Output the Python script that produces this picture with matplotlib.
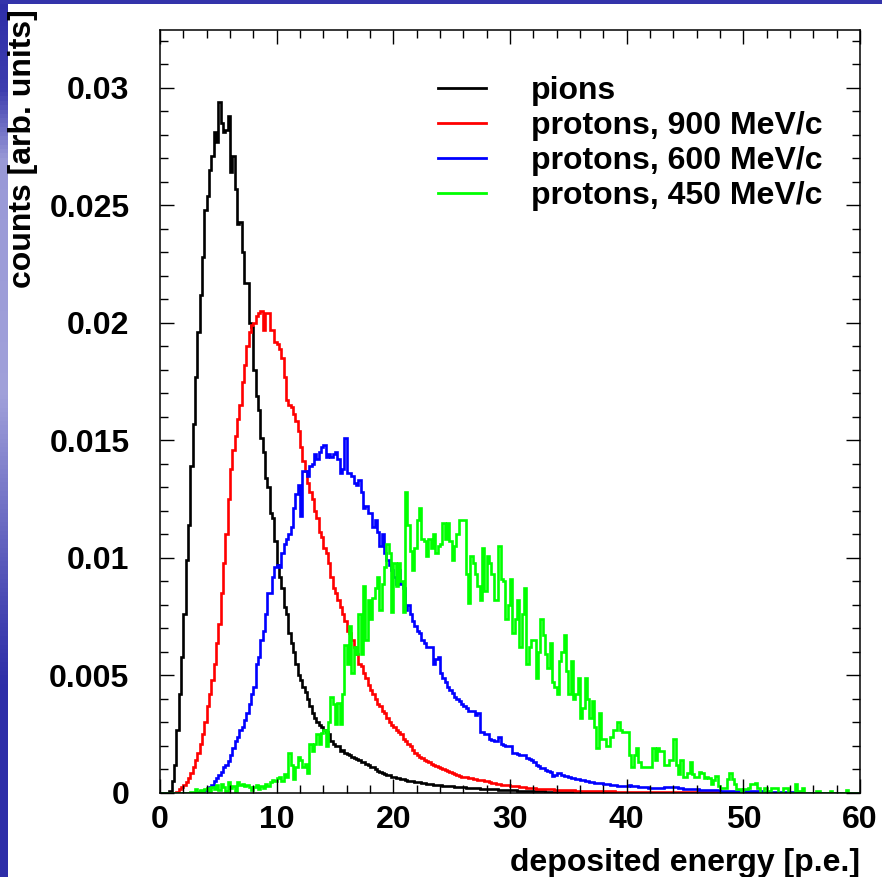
import numpy as np
import matplotlib.pyplot as plt
from matplotlib.lines import Line2D
from matplotlib.ticker import MultipleLocator, FuncFormatter

plt.rcParams['font.family'] = ['Liberation Sans', 'DejaVu Sans']
plt.rcParams['font.weight'] = 'bold'

# histogram binning: 300 bins of 0.2 p.e. between 0 and 60
edges = np.linspace(0, 60, 301)

# bin contents in units of 1e-4, one row = 10 bins = 2 p.e.
pions = [
    0, 0, 0, 0, 1, 5, 12, 27, 42, 58,
    76, 99, 114, 139, 157, 177, 196, 212, 228, 248,
    254, 265, 271, 281, 277, 294, 285, 281, 282, 288,
    264, 271, 257, 242, 243, 230, 217, 217, 200, 198,
    180, 169, 163, 151, 145, 134, 130, 119, 117, 107,
    97, 92, 87, 79, 76, 68, 64, 60, 55, 50,
    48, 45, 43, 40, 37, 34, 32, 30, 29, 28,
    27, 26, 25, 22, 21, 20, 20, 18, 18.5, 17,
    16.5, 16, 15.5, 15, 14.5, 14, 13, 13, 12.5, 12,
    11, 11, 10, 9.5, 9, 8.5, 8, 7.8, 7.5, 7,
    6.8, 6.5, 6.2, 6, 5.8, 5.5, 5.2, 5, 4.9, 4.8,
    4.7, 4.5, 4.4, 4.2, 4.0, 3.9, 3.8, 3.6, 3.4, 3.3,
    3.2, 3.1, 3.0, 2.9, 2.8, 2.8, 2.7, 2.6, 2.5, 2.4,
    2.4, 2.3, 2.3, 2.2, 2.1, 2.0, 2.0, 1.9, 1.8, 1.8,
    1.7, 1.7, 1.6, 1.5, 1.5, 1.4, 1.4, 1.3, 1.3, 1.2,
    1.2, 1.1, 1.1, 1.0, 1.0, 1.0, 0.9, 0.9, 0.9, 0.8,
    0.8, 0.8, 0.7, 0.7, 0.7, 0.6, 0.6, 0.6, 0.6, 0.5,
    0.5, 0.5, 0.5, 0.5, 0.4, 0.4, 0.4, 0.4, 0.4, 0.4,
    0.3, 0.3, 0.3, 0.3, 0.3, 0.3, 0.3, 0.3, 0.3, 0.3,
    0.3, 0.3, 0.2, 0.2, 0.2, 0.2, 0.2, 0.2, 0.2, 0.2,
    0.2, 0.2, 0.2, 0.2, 0.2, 0.2, 0.2, 0.2, 0.2, 0.2,
    0.1, 0.1, 0.1, 0.1, 0.1, 0.1, 0.1, 0.1, 0.1, 0.1,
    0.1, 0.1, 0.1, 0.1, 0.1,
]

protons_900 = [
    0, 0, 0, 0, 0, 0, 0, 0.5, 1.5, 2.5,
    3.5, 4.8, 6.5, 8.5, 11, 14, 17, 21, 25, 30,
    37, 42, 48, 55, 64, 72, 85, 98, 110, 125,
    138, 146, 152, 159, 165, 175, 182, 190, 196, 199,
    200, 203, 204, 205, 197, 204, 204, 197, 197, 192,
    191, 189, 185, 177, 167, 165, 164, 161, 158, 154,
    147, 141, 137, 132, 128, 125, 120, 117, 111, 109,
    104, 102, 98, 92, 87, 85, 82, 79, 76, 73,
    69, 68, 65, 62, 59, 55, 54, 51, 49, 46,
    44, 42, 40, 38, 37, 35, 34, 32, 30, 29,
    28, 27, 26, 25, 23, 22, 21, 20, 18.5, 17,
    16, 15.5, 15, 14, 13.5, 13, 12.5, 12, 11.5, 11,
    10.5, 10, 9.8, 9.3, 9, 8.6, 8.2, 7.8, 7.4, 7,
    6.8, 6.6, 6.4, 6.2, 6.0, 5.8, 5.6, 5.5, 5.4, 5.2,
    5.0, 4.7, 4.4, 4.2, 4.0, 3.8, 3.6, 3.4, 3.3, 3.2,
    3.1, 3.0, 2.9, 2.8, 2.7, 2.6, 2.5, 2.3, 2.2, 2.1,
    2.0, 1.9, 1.8, 1.7, 1.7, 1.6, 1.6, 1.5, 1.5, 1.4,
    1.4, 1.3, 1.3, 1.2, 1.2, 1.2, 1.1, 1.1, 1.0, 1.0,
    1.0, 0.9, 0.9, 0.9, 0.9, 0.8, 0.8, 0.8, 0.8, 0.7,
    0.7, 0.7, 0.7, 0.7, 0.7, 0.6, 0.6, 0.6, 0.6, 0.6,
    0.6, 0.6, 0.6, 0.6, 0.6, 0.5, 0.5, 0.5, 0.5, 0.5,
    0.5, 0.5, 0.5, 0.5, 0.5, 0.4, 0.4, 0.4, 0.4, 0.4,
    0.4, 0.4, 0.4, 0.4, 0.4, 0.3, 0.3, 0.3, 0.3, 0.3,
    0.3, 0.3, 0.3, 0.3, 0.3, 0.3, 0.3, 0.3, 0.3, 0.3,
    0.2, 0.2, 0.2, 0.2, 0.2, 0.2, 0.2, 0.2, 0.2, 0.2,
    0.2, 0.2, 0.2, 0.2, 0.2, 0.1, 0.1, 0.1, 0.1, 0.1,
    0.1, 0.1, 0.1, 0.1, 0.1, 0.1, 0.1, 0.1, 0.1, 0.1,
    0.1, 0.1, 0.1, 0.1, 0.1,
]

protons_600 = [
    0, 0, 0, 0, 0, 0, 0, 0, 0, 0,
    0, 0, 0, 0, 0, 0, 0.5, 0.8, 1.0, 1.2,
    1.5, 2.5, 3.5, 5, 6.5, 7.6, 9, 11, 12, 13.5,
    16, 19, 22, 24, 27, 28, 31, 34, 38, 42,
    45, 55, 58, 65, 69, 76, 85, 85, 92, 96,
    97, 96, 102, 106, 108, 110, 113, 121, 127, 131,
    118, 137, 137, 135, 139, 140, 144, 142, 145, 147,
    148, 143, 144, 143, 144, 145, 142, 136, 138, 151,
    136, 136, 135, 132, 131, 133, 128, 121, 122, 119,
    119, 113, 116, 111, 105, 110, 102, 99, 97, 95,
    92, 89, 95, 89, 87, 78, 80, 76, 73, 71,
    69, 68, 65, 64, 62, 62, 62, 55, 57, 58,
    51, 49, 47, 45, 44, 42.5, 41, 40, 39, 38,
    37, 36, 35, 35, 35, 33, 34, 26, 26, 25,
    25, 23, 22.6, 22, 22, 24, 21, 20.5, 20, 20,
    19.8, 17, 17, 16.5, 16.3, 16.3, 16, 15, 14.5, 14.1,
    13, 12, 11.3, 10.8, 10.5, 9.9, 9.5, 9, 7.1, 7.5,
    8.5, 8.5, 7.5, 7.1, 7.1, 6.8, 6.5, 6.2, 6, 5.8,
    5.6, 5.4, 5.2, 5.0, 4.8, 4.6, 4.4, 4.3, 4.2, 4.1,
    4.0, 3.9, 3.8, 3.6, 3.4, 3.2, 3.0, 2.9, 2.9, 3.0,
    3.1, 3.2, 3.1, 3.0, 2.8, 2.7, 2.6, 2.5, 2.4, 2.3,
    2.2, 2.2, 2.1, 2.1, 2.0, 2.2, 2.4, 2.5, 2.6, 2.5,
    2.6, 2.4, 2.2, 2.0, 1.9, 1.8, 1.7, 1.7, 1.6, 1.5,
    1.5, 1.4, 1.4, 1.3, 1.3, 1.2, 1.2, 1.1, 1.1, 1.1,
    1.0, 1.0, 1.0, 1.0, 1.0, 1.0, 1.0, 1.0, 1.0, 1.0,
    0.9, 0.9, 0.8, 0.8, 0.8, 0.7, 0.7, 0.7, 0.6, 0.6,
    0.5, 0.5, 0.5, 0.5, 0.5, 0.5, 0.5, 0.5, 0.5, 0.5,
    0.4, 0.4, 0.3, 0.3, 0.2, 0.2, 0.1, 0.1,
]

protons_450 = [
    0, 0, 0, 0, 0, 0, 0, 0, 0, 0,
    0, 0, 0, 0.5, 0.5, 1.5, 0.5, 1.3, 0.3, 1.6,
    2, 1.0, 2.7, 1.8, 3.4, 1.2, 3.8, 2.5, 0.8, 4.8,
    2.0, 2.8, 1.0, 4.8, 3.3, 3.8, 2.8, 3.5, 2.4, 1.3,
    2.5, 3.5, 1.7, 3.0, 2.2, 4.0, 3.0, 4.5, 5.5, 5.0,
    6.4, 7.0, 5.0, 7.9, 7.0, 17, 12, 6, 11, 15.5,
    14, 11, 12.5, 8.5, 21, 18, 21, 25, 21, 25.5,
    26.6, 20, 30, 41, 38, 29.5, 38.3, 29.5, 42, 63,
    55, 71, 51, 62, 59, 76, 59, 88, 65, 82,
    74, 83, 87, 92, 78, 89, 96, 106, 102, 77,
    98, 88, 98, 90, 77, 128, 114, 103, 95, 104,
    116, 121, 108, 107, 101, 108, 104, 110, 102, 105,
    106, 115, 108, 115, 107, 99, 105, 110, 116, 116,
    116, 93, 81, 101, 98, 93, 88, 82, 104, 86,
    101, 98, 93, 82, 82, 105, 91, 90, 74, 80,
    91, 68, 74, 82, 62, 76, 87, 55, 62, 65,
    65, 49, 60, 74, 67, 59, 53, 64, 47, 45,
    42, 56, 60, 67, 52, 42, 56, 40, 42, 49,
    32, 36, 49, 40, 32, 39, 28, 19, 34, 23,
    23, 20, 20, 24, 27, 27, 30, 27, 26, 26,
    26, 16, 11, 16, 19, 13, 11, 11, 11, 11,
    11, 19, 14, 19, 18, 18, 12, 12, 14, 14,
    23, 12, 8, 14, 7, 7, 8.5, 13, 8, 7,
    7, 9, 8.7, 6.5, 7, 6.5, 3.7, 5.5, 7.1, 3,
    2.3, 2.3, 2.3, 5.8, 8.7, 5.8, 3.7, 1.5, 1.5, 0,
    1.5, 1.5, 2.3, 3.7, 3.7, 4.4, 2.3, 0, 0, 2.3,
    0.8, 0.8, 2.3, 2.3, 2.3, 0, 0, 2.3, 2.3, 0,
    0, 0, 3.7, 0.8, 0.8, 2.3, 0, 0, 0, 0,
    0, 1.0, 1.0, 0, 0, 0, 0, 1.0, 0, 0,
    0, 0, 0, 0, 1.2, 0, 0, 0, 0, 0,
]

labels = ['pions', 'protons, 900 MeV/c', 'protons, 600 MeV/c', 'protons, 450 MeV/c']
colors = ['black', '#ff0000', '#0000ff', '#00ff00']


def to_counts(vals):
    v = np.asarray(vals, dtype=float) * 1e-4
    return np.pad(v, (0, len(edges) - 1 - len(v)))


W, H = 882, 877
fig = plt.figure(figsize=(W / 100, H / 100), dpi=100)

# slide background peeking in on the left and top edges
strip = fig.add_axes([0, 0, 8 / W, 1])
ys = np.linspace(0, 1, 200)
shade = np.interp(ys, [0, 0.22, 0.3, 0.55, 0.82, 0.9, 1], [0, 0, 0.15, 0.75, 0.7, 0.1, 0])
dark = np.array([0.18, 0.18, 0.66])
light = np.array([0.78, 0.78, 0.92])
col = dark[None, :] * (1 - shade[:, None]) + light[None, :] * shade[:, None]
strip.imshow(col[:, None, :], aspect='auto', origin='lower', extent=[0, 1, 0, 1])
strip.axis('off')
fig.add_artist(plt.Rectangle((0, 1 - 4 / H), 1, 4 / H, transform=fig.transFigure,
                             color='#3333aa', lw=0))

ax = fig.add_axes([160 / W, 84 / H, 700 / W, 763 / H])

series = [pions, protons_900, protons_600, protons_450]
for vals, c in zip(series, colors):
    ax.stairs(to_counts(vals), edges, color=c, lw=1.9)

ax.set_xlim(0, 60)
ax.set_ylim(0, 0.03245)

ax.xaxis.set_major_locator(MultipleLocator(10))
ax.xaxis.set_minor_locator(MultipleLocator(2))
ax.yaxis.set_major_locator(MultipleLocator(0.005))
ax.yaxis.set_minor_locator(MultipleLocator(0.001))
ax.yaxis.set_major_formatter(FuncFormatter(lambda v, p: '%g' % round(v, 4)))

ax.tick_params(which='both', direction='in', top=True, right=True,
               labelsize=23, width=1.0)
ax.tick_params(which='major', length=10)
ax.tick_params(which='minor', length=5.5)
ax.tick_params(axis='y', pad=22)
ax.tick_params(axis='x', pad=9)
for s in ax.spines.values():
    s.set_linewidth(1.1)

ax.set_xlabel('deposited energy [p.e.]', fontsize=23, fontweight='bold', loc='right')
ax.set_ylabel('counts [arb. units]', fontsize=23, fontweight='bold', loc='top')
ax.yaxis.set_label_coords(-0.175, 1.027)
ax.xaxis.set_label_coords(1.0, -0.072)

handles = [Line2D([], [], color=c, lw=2.0) for c in colors]
ax.legend(handles, labels, loc='upper left', bbox_to_anchor=(0.397, 0.940),
          frameon=False, fontsize=23, handlelength=1.5, handletextpad=1.4,
          labelspacing=0.16, borderpad=0, borderaxespad=0)

fig.savefig('out.png', dpi=100)
